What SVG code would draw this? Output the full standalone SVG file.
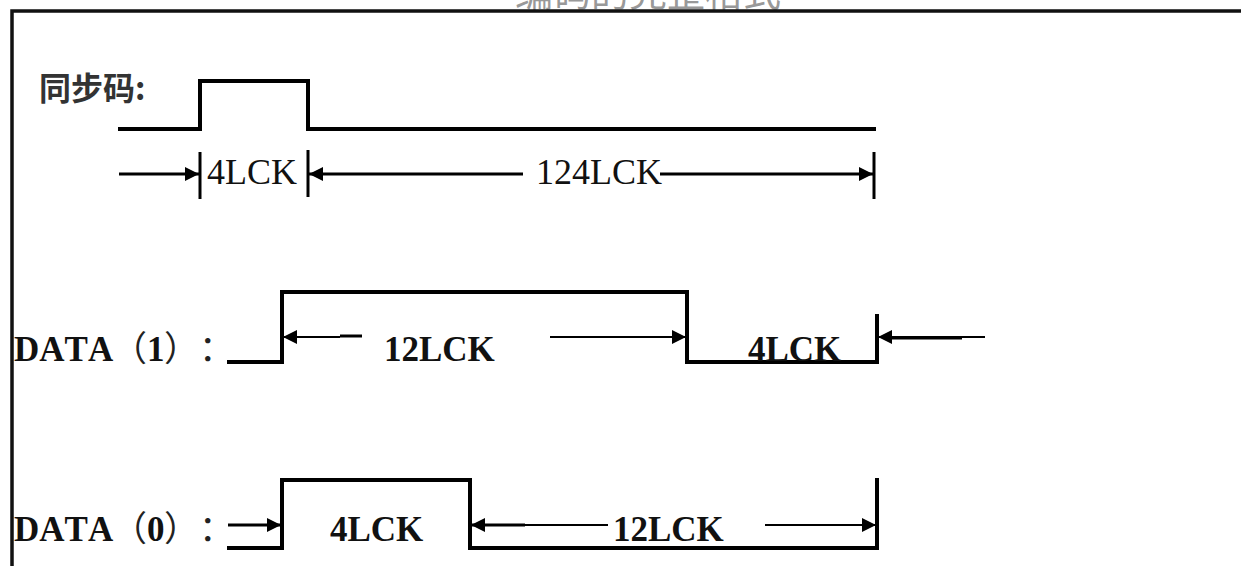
<svg xmlns="http://www.w3.org/2000/svg" width="1241" height="566" viewBox="0 0 1241 566">
<defs>
<style>
.sig{fill:none;stroke:#000;stroke-width:4;stroke-linejoin:miter;stroke-linecap:square}
.dim{fill:none;stroke:#000;stroke-width:3}
.thin{fill:none;stroke:#000;stroke-width:2}
.tick{stroke:#000;stroke-width:3}
.serif{font-family:"Liberation Serif","Noto Sans CJK SC",serif;font-size:36px;fill:#111;font-kerning:none}
.bold{font-family:"Liberation Serif","Noto Sans CJK SC",serif;font-size:35px;font-weight:bold;fill:#111;font-kerning:none}
.fw{font-family:"Noto Sans CJK SC",sans-serif;font-weight:normal;fill:#222}
.cjk{font-family:"Noto Sans CJK SC",sans-serif;font-size:32px;font-weight:bold;fill:#333}
</style>
<marker id="ah" viewBox="0 0 14 14" refX="14" refY="7" markerWidth="15" markerHeight="14" markerUnits="userSpaceOnUse" orient="auto">
<path d="M0,0 L14,7 L0,14 Z" fill="#000"/>
</marker>
</defs>
<rect x="0" y="0" width="1241" height="566" fill="#fff"/>
<text x="515" y="6" font-family="Noto Sans CJK SC, sans-serif" font-size="38" fill="#999">编码的完整格式</text>
<path d="M12,566 L12,11 L1241,11" fill="none" stroke="#111" stroke-width="3.5"/>

<g id="sync">
<text class="cjk" x="39" y="100">同步码:</text>
<path class="sig" d="M120,129 H200 V81 H308 V129 H874"/>
</g>
<g id="sync-dims">
<line class="tick" x1="200" y1="152" x2="200" y2="199"/>
<line class="tick" x1="308" y1="150" x2="308" y2="197"/>
<line class="tick" x1="874" y1="152" x2="874" y2="199"/>
<text class="serif" x="207" y="184">4LCK</text>
<text class="serif" x="536" y="184">124LCK</text>
</g>

<g id="data1">
<text class="bold" x="14" y="361">DATA<tspan class="fw" x="112">（</tspan><tspan x="147">1</tspan><tspan class="fw" x="164">）</tspan><tspan class="fw" x="199">：</tspan></text>
<path class="sig" d="M229,362 H282 V292 H687 V362 H877 V316"/>
<text class="bold" x="384" y="361">12LCK</text>
<text class="bold" x="748" y="361">4LCK</text>
</g>

<g id="data0">
<text class="bold" x="14" y="541">DATA<tspan class="fw" x="112">（</tspan><tspan x="147">0</tspan><tspan class="fw" x="164">）</tspan><tspan class="fw" x="199">：</tspan></text>
<path class="sig" d="M229,548 H282 V480 H470 V548 H877 V480"/>
<text class="bold" x="330" y="541">4LCK</text>
<text class="bold" x="613" y="541">12LCK</text>
</g>

<g id="connectors">
<line class="dim" x1="119" y1="174" x2="199" y2="174" marker-end="url(#ah)"/>
<line class="dim" x1="523" y1="174" x2="309" y2="174" marker-end="url(#ah)"/>
<line class="dim" x1="660" y1="174" x2="873" y2="174" marker-end="url(#ah)"/>

<line class="thin" x1="340" y1="337" x2="283" y2="337" marker-end="url(#ah)"/>
<line class="dim" x1="340" y1="336" x2="362" y2="336" stroke-width="4"/>
<line class="thin" x1="550" y1="337" x2="686" y2="337" marker-end="url(#ah)"/>
<line class="thin" x1="985" y1="337" x2="878" y2="337" marker-end="url(#ah)"/>
<line class="dim" x1="890" y1="338" x2="962" y2="338" stroke-width="4"/>

<line class="dim" x1="228" y1="525" x2="281" y2="525" marker-end="url(#ah)"/>
<line class="dim" x1="525" y1="525" x2="471" y2="525" marker-end="url(#ah)" stroke-width="4"/>
<line class="thin" x1="525" y1="525" x2="608" y2="525"/>
<line class="thin" x1="765" y1="525" x2="876" y2="525" marker-end="url(#ah)"/>
</g>
</svg>
